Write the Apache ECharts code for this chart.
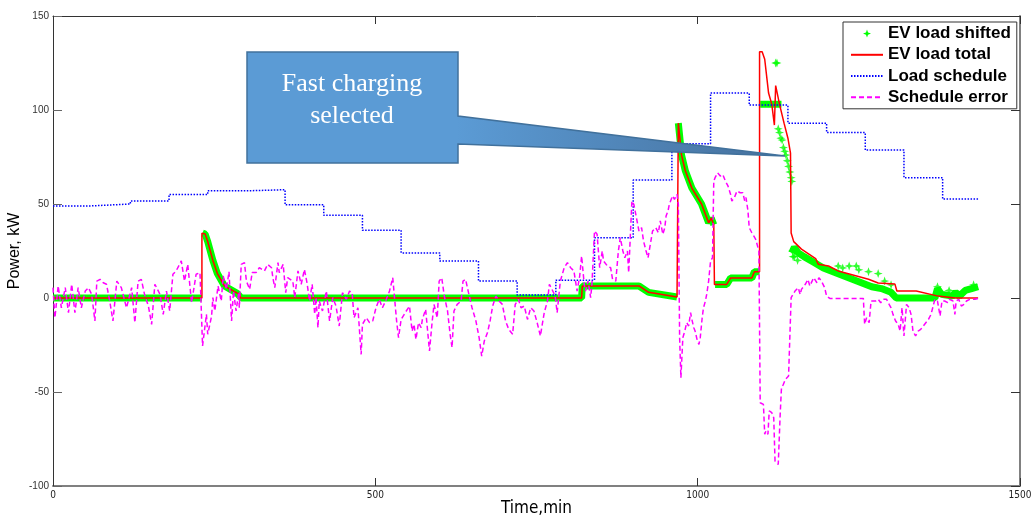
<!DOCTYPE html>
<html>
<head>
<meta charset="utf-8">
<script src="https://cdn.jsdelivr.net/npm/echarts@6/dist/echarts.min.js"></script>
<style>
  html, body { margin: 0; padding: 0; background: #fff; }
  #chart { width: 1034px; height: 519px; }
</style>
</head>
<body>
<div id="chart"></div>
<script>
// hourly load schedule (start minute, kW)
var scheduleStart = [0, 60, 120, 180, 240, 300, 360, 420, 480, 540, 600, 660, 720, 780, 840, 900, 960, 1020, 1080, 1140, 1200, 1260, 1320, 1380, 1435];
var scheduleKw = [49, 50, 51.6, 55, 57, 57.6, 49.6, 44, 36, 24, 19.7, 9, 1.6, 9.5, 32, 62.7, 82, 109, 102.6, 93, 88, 78.7, 64, 52.6, 52.6];

// EV load total [minute, kW]
var evTotal = [
  [0, 0], [231, 0], [231, 34.5], [236, 34], [240, 30], [248, 20], [255, 13], [266, 6.4], [285, 2.7], [290, 2], [291, 0],
  [820, 0], [821, 6.4], [909, 6.4], [924, 3], [968, 0.5], [970, 0.5], [970, 93], [973, 83], [975, 76], [981, 67.5],
  [991, 58.5], [1006, 50], [1017, 40], [1021, 42.5], [1025, 39], [1026, 7.2], [1045, 7.2], [1051, 10.6], [1084, 10.6],
  [1088, 14], [1096, 14], [1096, 131], [1100, 131], [1104, 127], [1110, 109], [1115, 103], [1119, 92], [1121, 113],
  [1127, 103], [1134, 93], [1140, 85], [1144, 77], [1145, 34.6], [1149, 30], [1161, 26], [1183, 21], [1187, 18],
  [1203, 17], [1218, 14.4], [1265, 10], [1280, 8], [1306, 7.4], [1309, 3.7], [1339, 3.7], [1373, 1], [1399, 0], [1435, 0]
];

// EV load shifted, dense band ('-' breaks the band)
var evShifted = [
  [0, 0], [231, 0], [231, '-'],
  [232, 34.5], [236, 34], [240, 30], [248, 20], [255, 13], [266, 6.4], [285, 2.7], [292, 0], [820, 0], [821, 6.4],
  [909, 6.4], [924, 3], [968, 0.5], [969, '-'],
  [970, 93], [973, 83], [975, 76], [981, 67.5], [991, 58.5], [1006, 50], [1017, 40], [1021, 42.5], [1025, 39], [1025.5, '-'],
  [1027, 7.2], [1045, 7.2], [1051, 10.6], [1084, 10.6], [1088, 14], [1096, 14], [1096.5, '-'],
  [1097, 103], [1130, 103], [1130.5, '-'],
  [1146, 24], [1150, 27], [1156, 24], [1165, 22], [1180, 19], [1195, 16], [1210, 14], [1225, 12], [1240, 10],
  [1255, 8], [1270, 6], [1285, 5], [1300, 3], [1308, 0], [1368, 0], [1372, 5], [1378, 2], [1395, 1], [1400, 3],
  [1406, 1], [1415, 4], [1425, 5], [1435, 6]
];
// EV load shifted, isolated points
var evShiftedExtra = [
  [1121, 125], [1123, 125],
  [1125, 90], [1127, 88], [1129, 85], [1131, 84], [1133, 80], [1135, 78], [1137, 76], [1139, 73], [1141, 70],
  [1143, 67], [1145, 64], [1146, 62],
  [1147, 25], [1148, 22], [1150, 22], [1155, 20], [1218, 17], [1225, 16], [1235, 17], [1246, 17], [1250, 15],
  [1265, 14], [1280, 13], [1290, 9], [1300, 7], [1372, 6], [1390, 4], [1428, 7]
];

// schedule error [minute, kW]
var scheduleError = [
  [0, 5.5], [3, -10.5], [8, 6.4], [13, -5.2], [19, 5.5], [24, -7.8], [29, 7.3], [34, -7.8], [39, 5.5], [44, -5.2], [50, 3.7],
  [55, 5.5], [60, 1.9], [65, -12.2], [68, 9], [73, 9.9], [78, 8.1], [83, 7.3], [88, -1.6], [93, -12.2], [99, 9], [106, 5.5],
  [114, -5.2], [122, 5.5], [127, -13.1], [132, 9], [137, 9.9], [142, 1.9], [148, -4.3], [153, -14], [158, 7.3], [166, 1.9],
  [171, -8.7], [176, 3.7], [181, -6.9], [186, 12.6], [191, 14.4], [199, 19.7], [204, 9], [209, 17.9], [215, -2.5],
  [222, 12.6], [228, 13.5],
  [232, -25.5], [238, -8.7], [240, -19.3], [246, -9.6], [248, 0.2], [251, -6.9], [256, 6.4], [261, -1.6], [264, 11.7],
  [269, 4.6], [273, 14], [277, -12.2], [280, 3.7], [284, -6.9], [288, 2.8], [289, -5.2], [292, 17.9], [297, 18.8], [300, 9],
  [305, 4.6], [309, 13.5], [315, 13.5], [320, 16.1], [328, 14.4], [333, 17.9], [339, 16.1], [341, 10.8], [344, 5.5],
  [349, 18.8], [351, 13.5], [357, 17.9], [361, 2.8], [364, 10.8], [372, 9], [375, 0.2], [380, 14.4], [385, 7.3], [390, 15.2],
  [394, 8.1], [398, -1.6], [402, 7.3], [406, -8.7], [408, 0.2], [411, -15.8], [413, -1.6], [418, -6.9], [424, 3.7],
  [429, -12.2], [434, 0.2], [439, -4.3], [444, -14.9], [449, 2.8], [455, -0.7], [460, 3.7], [464, 2.8], [467, -10.5],
  [473, -5.2], [478, -30], [480, -14], [486, -10.5], [491, -13.1], [496, -12.2], [501, -5.2], [506, -0.7], [511, -5.2],
  [517, -0.7], [522, 3.7], [527, 10.8], [529, 9.9], [533, -12.2], [536, -21.1], [540, -11.4], [543, -12.2], [548, -6.9],
  [553, -4.3], [557, -17.6], [560, -14], [563, -22], [567, -13.1], [571, -15.8], [573, -11.4], [578, -6], [584, -28.2],
  [588, -13.1], [591, -3.4], [596, -10.5], [599, 9], [603, 10.8], [607, 1], [612, -6.9], [616, -19.3], [619, -26.4],
  [622, -6.9], [627, -3.4], [633, -1.6], [636, 9], [640, 9.9], [644, 3.7], [650, -5.2], [656, -12.2], [661, -21.1],
  [665, -30.9], [669, -22.9], [674, -18.4], [678, -12.2], [682, -4.3], [687, 1], [692, -1.6], [697, -3.4], [702, -12.2],
  [707, -16.7], [713, -19.3], [717, -3.4], [722, -0.7], [726, -5.2], [731, -4.3], [736, -11.4], [741, -5.2], [746, -6.9],
  [751, -13.1], [756, -20.2], [762, -7.8], [767, -1.6], [770, 7.3], [774, 4.6], [779, 1], [782, -7.8], [787, 9], [793, 16.1],
  [798, 18.8], [803, 16.1], [808, 14.4], [813, 3.7],
  [817, 11.7], [820, 22.3], [824, 7.3], [826, 3.7], [830, 9], [834, 0.2], [836, 7.3], [840, 35.6], [844, 33.9], [848, 16.1],
  [852, 25], [854, 19.7], [860, 17], [865, 16.1], [868, 9.9], [873, 9], [877, 25], [880, 32.1], [884, 25], [887, 21.4],
  [891, 25], [893, 13.5], [896, 12.6], [898, 51.6], [901, 49.8], [905, 42.7], [909, 35.6], [913, 37.4], [916, 30.3],
  [920, 25], [923, 21.4], [927, 29.4], [930, 35.6], [935, 37.4], [939, 34.7], [942, 41], [946, 33.9], [949, 37.4],
  [951, 43.6], [954, 46.3], [956, 49.8], [959, 49.8], [961, 54.3], [964, 52.5], [968, 55.2], [970, 49.8], [972, -21.1],
  [974, -42.4], [976, -42.4], [977, -21.1], [980, -17.6], [983, -13.1], [986, -14.9], [989, -7.8], [991, -11.4],
  [994, -15.8], [996, -17.6], [999, -22], [1002, -24.7], [1004, -21.1], [1007, -10.5], [1009, -5.2], [1012, -1.6],
  [1014, 1.9], [1017, 9], [1020, 19.7], [1023, 21.4], [1025, 62.2], [1027, 64], [1031, 66.6], [1035, 64.9], [1039, 65.7],
  [1043, 62.2], [1047, 59.6], [1051, 55.2], [1053, 51.6], [1057, 53.4], [1061, 56.9], [1066, 56], [1070, 56], [1073, 51.6],
  [1075, 53.4], [1078, 46.3], [1080, 37.4], [1084, 34.7], [1087, 33], [1090, 31.2], [1093, 32.1], [1095, 25],
  [1097, -55.7], [1102, -56.6], [1104, -72.5], [1106, -70.7], [1109, -72.5], [1111, -60.1], [1115, -61], [1118, -63.7],
  [1120, -86.7], [1123, -85.8], [1125, -88.5], [1128, -61.9], [1130, -47.7], [1133, -45.9], [1136, -43.3], [1138, -44.2],
  [1141, -41.5], [1143, -40.6], [1145, 0.2], [1151, 3.7], [1156, 5.5], [1159, 1.9], [1161, 4.6], [1167, 7.3], [1171, 9.9],
  [1174, 6.4], [1180, 10.8], [1185, 8.1], [1188, 10.8], [1192, 9], [1197, 5.5], [1200, 1], [1205, -0.2],
  [1257, -0.2], [1259, -14], [1262, -10.5], [1266, -13.1], [1269, -1.6], [1272, -0.7], [1276, -1.6], [1280, -0.7],
  [1284, -2.5], [1288, -0.7], [1293, -0.7], [1297, -3.4], [1300, -5.2], [1303, -8.7], [1307, -12.2], [1311, -14],
  [1314, -17.6], [1317, -5.2], [1320, -20.2], [1324, -3.4], [1328, -5.2], [1331, -8.7], [1334, -17.6], [1338, -20.2],
  [1342, -17.6], [1346, -16.7], [1350, -14.9], [1353, -14], [1358, -11.4], [1362, -8.7], [1365, -7.8], [1368, -0.7],
  [1372, -1.6], [1376, -9.6], [1379, -1.6], [1383, -1.6], [1388, -2.5], [1391, -0.7], [1396, -1.6], [1399, -8.7],
  [1401, -1.6], [1405, -0.7], [1409, -4.3], [1413, -3.4], [1417, -1.6], [1422, -0.7], [1430, -0.7], [1438, 0]
];

var xTicks = { min: 0, max: 1500, interval: 500 };
var yTicks = { min: -100, max: 150, interval: 50 };

var starPath = "path://M0,-10 L2.6,-2.6 L10,0 L2.6,2.6 L0,10 L-2.6,2.6 L-10,0 L-2.6,-2.6 Z";
var narrow = '"DejaVu Sans Condensed", "Liberation Sans Narrow", sans-serif';

var myChart = echarts.init(document.getElementById("chart"));

var schedulePts = scheduleStart.map(function (t, i) { return [t, scheduleKw[i]]; });
var plain = function (v) { return String(v); };
var noDot = { opacity: 0 };

var option = {
  animation: false,
  grid: { left: 53, right: 14, top: 16, bottom: 33, outerBoundsMode: "none", containLabel: false },
  legend: {
    left: 843,
    top: 22,
    orient: "vertical",
    padding: [1, 6, 1, 7],
    itemWidth: 32,
    itemHeight: 8,
    itemGap: 0,
    backgroundColor: "#fff",
    borderColor: "#333",
    borderWidth: 1,
    textStyle: { fontFamily: "Liberation Sans, Arial", fontWeight: "bold", fontSize: 17, color: "#000", lineHeight: 21.2 },
    data: [
      { name: "EV load shifted", icon: starPath },
      { name: "EV load total", itemStyle: noDot },
      { name: "Load schedule", itemStyle: noDot },
      { name: "Schedule error", itemStyle: noDot }
    ]
  },
  xAxis: [
    {
      type: "value", position: "bottom",
      min: xTicks.min, max: xTicks.max, interval: xTicks.interval,
      name: "Time,min", nameLocation: "middle", nameGap: 14, nameMoveOverlap: false,
      nameTextStyle: { fontFamily: narrow, fontSize: 17, color: "#000" },
      axisLine: { onZero: false, lineStyle: { color: "#808080", width: 2 } },
      axisTick: { inside: true, length: 8, lineStyle: { color: "#333" } },
      axisLabel: { fontFamily: narrow, fontSize: 10, color: "#222", margin: 4, formatter: plain },
      splitLine: { show: false }
    },
    {
      type: "value", position: "top",
      min: xTicks.min, max: xTicks.max, interval: xTicks.interval,
      axisLine: { onZero: false, lineStyle: { color: "#333", width: 1 } },
      axisTick: { inside: true, length: 8, lineStyle: { color: "#333" } },
      axisLabel: { show: false },
      splitLine: { show: false }
    }
  ],
  yAxis: [
    {
      type: "value", position: "left",
      min: yTicks.min, max: yTicks.max, interval: yTicks.interval,
      name: "Power, kW", nameLocation: "middle", nameGap: 30, nameMoveOverlap: false,
      nameTextStyle: { fontFamily: "Liberation Sans, Arial", fontSize: 16, color: "#000" },
      axisLine: { show: true, onZero: false, lineStyle: { color: "#333", width: 1 } },
      axisTick: { show: true, inside: true, length: 9, lineStyle: { color: "#666" } },
      axisLabel: { fontFamily: "Liberation Sans, Arial", fontSize: 10, color: "#333", margin: 4, formatter: plain },
      splitLine: { show: false }
    },
    {
      type: "value", position: "right",
      min: yTicks.min, max: yTicks.max, interval: yTicks.interval,
      axisLine: { show: true, onZero: false, lineStyle: { color: "#808080", width: 2 } },
      axisTick: { show: true, inside: true, length: 9, lineStyle: { color: "#333" } },
      axisLabel: { show: false },
      splitLine: { show: false }
    }
  ],
  series: [
    {
      name: "EV load shifted",
      type: "line",
      data: evShifted,
      symbol: "none",
      connectNulls: false,
      color: "#00ff00",
      lineStyle: { color: "#00ff00", width: 7, cap: "butt" },
      z: 2
    },
    {
      name: "EV load shifted",
      type: "scatter",
      data: evShiftedExtra,
      symbol: starPath,
      symbolSize: 9,
      itemStyle: { color: "#00ff00" },
      z: 2
    },
    {
      name: "EV load total",
      type: "line",
      data: evTotal,
      symbol: "none",
      color: "#ff0000",
      lineStyle: { color: "#ff0000", width: 1.5 },
      z: 3
    },
    {
      name: "Load schedule",
      type: "line",
      data: schedulePts,
      step: "end",
      symbol: "none",
      color: "#0000ff",
      lineStyle: { color: "#0000ff", width: 1.5, type: [1.5, 1.5] },
      z: 4
    },
    {
      name: "Schedule error",
      type: "line",
      data: scheduleError,
      symbol: "none",
      color: "#ff00ff",
      lineStyle: { color: "#ff00ff", width: 1.5, type: [5, 3] },
      z: 5
    }
  ],
  graphic: [
    {
      type: "polygon",
      z: 100,
      shape: {
        points: [[247, 52], [458, 52], [458, 116], [785, 156], [458, 144], [458, 163], [247, 163]]
      },
      style: {
        fill: {
          type: "linear", x: 0, y: 0, x2: 1, y2: 0,
          colorStops: [
            { offset: 0, color: "#5b9bd5" },
            { offset: 0.39, color: "#5b9bd5" },
            { offset: 1, color: "#46709c" }
          ]
        },
        stroke: "#41719c",
        lineWidth: 1.5
      }
    },
    {
      type: "text",
      z: 101,
      x: 352,
      y: 68,
      style: {
        text: "Fast charging\nselected",
        align: "center",
        verticalAlign: "top",
        fill: "#fff",
        font: '26px "Liberation Serif", "Times New Roman", serif',
        lineHeight: 32
      }
    }
  ]
};

myChart.setOption(option);
window.addEventListener("resize", function () {
  myChart.resize();
});
</script>
</body>
</html>
